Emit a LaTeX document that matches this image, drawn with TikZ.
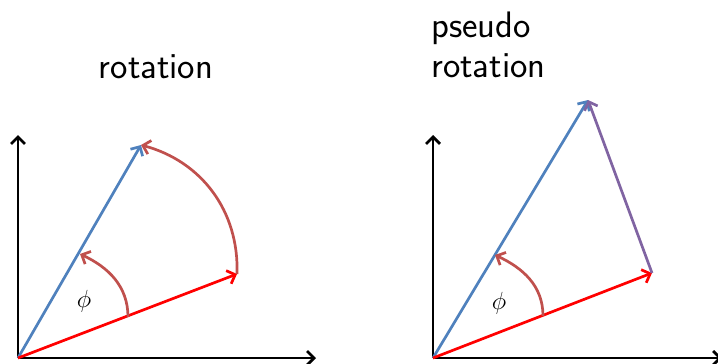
\documentclass[tikz,border=0pt]{standalone}
\usepackage{tikz}
\usetikzlibrary{arrows.meta}
\definecolor{vecblue}{RGB}{79,129,189}
\definecolor{arcred}{RGB}{192,80,77}
\definecolor{vecpurple}{RGB}{128,100,162}

\begin{document}
\begin{tikzpicture}[
  x=1bp, y=1bp,
  axis/.style={line width=2.7bp, -{Straight Barb[length=7bp,width=14bp]}},
  vec/.style={line width=2.7bp, -{Straight Barb[length=7bp,width=14bp]}},
  lbl/.style={font=\fontsize{37}{40}\selectfont\sffamily, inner sep=0pt, align=left},
  ang/.style={font=\fontsize{31}{34}\selectfont, inner sep=0pt},
]
\useasboundingbox (0,0) rectangle (718,363);

% ---------- rotation ----------
\coordinate (o1) at (18,5);
\coordinate (x1) at (316,5);
\coordinate (y1) at (18,228);
\coordinate (r1) at (237,89);
\coordinate (b1) at (141,218);
\coordinate (s1) at (128,46);
\coordinate (t1) at (80,109);
\draw[axis] (o1) -- (x1);
\draw[axis] (o1) -- (y1);
\draw[vec, vecblue] (o1) -- (b1);
\draw[vec, red] (o1) -- (r1);
\draw[vec, arcred] (r1) to[out=88, in=-15] (b1);
\draw[vec, arcred] (s1) to[out=90, in=-25] (t1);
\node[ang] (p1) at (84,62) {$\phi$};
\node[lbl] (n1) at (156,296) {rotation};

% ---------- pseudo rotation ----------
\coordinate (o2) at (433,5);
\coordinate (x2) at (722,5);
\coordinate (y2) at (433,228);
\coordinate (r2) at (652,90);
\coordinate (b2) at (588,263);
\coordinate (s2) at (543,47);
\coordinate (t2) at (495,108);
\draw[axis] (o2) -- (x2);
\draw[axis] (o2) -- (y2);
\draw[vec, vecblue] (o2) -- (b2);
\draw[vec, red] (o2) -- (r2);
\draw[vec, vecpurple] (r2) -- (b2);
\draw[vec, arcred] (s2) to[out=90, in=-25] (t2);
\node[ang] (p2) at (499,60) {$\phi$};
\node[lbl, anchor=west] (n2) at (431,318) {pseudo\\rotation};

\end{tikzpicture}
\end{document}
